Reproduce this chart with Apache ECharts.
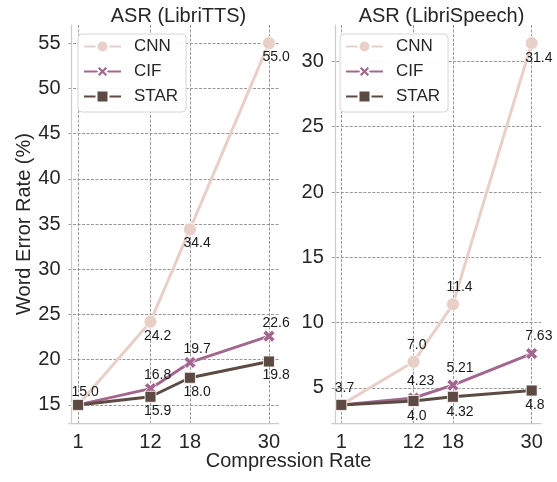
<!DOCTYPE html>
<html>
<head>
<meta charset="utf-8">
<script src="https://cdn.jsdelivr.net/npm/echarts@6/dist/echarts.min.js"></script>
<style>html,body{margin:0;padding:0;background:#fff;}#c{width:557px;height:482px;}</style>
</head>
<body>
<div id="c"></div>
<script>
// ---- data ----
const compressionRates = [1, 12, 18, 30];
const seriesNames = ['CNN', 'CIF', 'STAR'];

const ttsCNN  = [15.0, 24.2, 34.4, 55.0];
const ttsCIF  = [15.0, 16.8, 19.7, 22.6];
const ttsSTAR = [15.0, 15.9, 18.0, 19.8];
const ttsCNNLabels  = ['15.0', '24.2', '34.4', '55.0'];
const ttsCIFLabels  = ['', '16.8', '19.7', '22.6'];
const ttsSTARLabels = ['', '15.9', '18.0', '19.8'];
const ttsCNNPos  = ['above', 'below', 'below', 'below'];
const ttsCIFPos  = ['', 'above', 'above', 'above'];
const ttsSTARPos = ['', 'below', 'below', 'below'];

const speechCNN  = [3.7, 7.0, 11.4, 31.4];
const speechCIF  = [3.7, 4.23, 5.21, 7.63];
const speechSTAR = [3.7, 4.0, 4.32, 4.8];
const speechCNNLabels  = ['3.7', '7.0', '11.4', '31.4'];
const speechCIFLabels  = ['', '4.23', '5.21', '7.63'];
const speechSTARLabels = ['', '4.0', '4.32', '4.8'];
const speechCNNPos  = ['above', 'above', 'above', 'below'];
const speechCIFPos  = ['', 'above', 'above', 'above'];
const speechSTARPos = ['', 'below', 'below', 'below'];

const ttsYTicks = [15, 20, 25, 30, 35, 40, 45, 50, 55];
const speechYTicks = [5, 10, 15, 20, 25, 30];

// ---- styles ----
const FONT = "'Liberation Sans', Arial, Helvetica, sans-serif";
const TXT = '#262626';
const colors = { CNN: '#e8d0c8', CIF: '#a3678f', STAR: '#5d4b43' };
const XPATH = 'path://M2.5,0 L5,2.5 L7.5,0 L10,2.5 L7.5,5 L10,7.5 L7.5,10 L5,7.5 L2.5,10 L0,7.5 L2.5,5 L0,2.5 Z';
const symbols = { CNN: 'circle', CIF: XPATH, STAR: 'rect' };
const symSizes = { CNN: 13, CIF: 12, STAR: 11 };

const grids = [
  { left: 68.5, top: 25, width: 210, height: 398 },
  { left: 331.8, top: 25, width: 209.4, height: 398 }
];

function makeData(values, labels, pos, dyAbove, dyBelow) {
  return compressionRates.map((x, i) => {
    const item = { value: [x, values[i]] };
    if (labels[i]) {
      item.label = {
        show: true,
        formatter: labels[i],
        position: 'inside',
        align: 'left',
        verticalAlign: 'middle',
        offset: [-6.5, pos[i] === 'above' ? dyAbove : dyBelow],
        fontSize: 14,
        fontFamily: FONT,
        color: '#1a1a1a'
      };
    } else {
      item.label = { show: false };
    }
    return item;
  });
}

function makeSeries(name, idx, values, labels, pos, dyA, dyB) {
  return {
    name: name,
    type: 'line',
    xAxisIndex: idx,
    yAxisIndex: idx,
    data: makeData(values, labels, pos, dyA, dyB),
    symbol: symbols[name],
    symbolSize: symSizes[name],
    showAllSymbol: true,
    lineStyle: { color: colors[name], width: 3 },
    itemStyle: { color: colors[name], borderColor: '#fff', borderWidth: 0.8, opacity: 1 },
    emphasis: { disabled: true },
    animation: false,
    z: 2 + seriesNames.indexOf(name)
  };
}

function xAxisOpt(idx) {
  return {
    type: 'value', gridIndex: idx, min: -0.45, max: 31.45,
    axisLine: { show: true, lineStyle: { color: '#cccccc', width: 1.25 } },
    axisTick: { show: false, customValues: compressionRates },
    axisLabel: { customValues: compressionRates, fontSize: 20, color: TXT, fontFamily: FONT, margin: 9 },
    splitLine: { show: true, lineStyle: { color: '#999', width: 1, type: [3, 1.5] } }
  };
}

function yAxisOpt(idx, min, max, ticks) {
  const o = {
    type: 'value', gridIndex: idx, min: min, max: max,
    axisLine: { show: true, lineStyle: { color: '#cccccc', width: 1.25 } },
    axisTick: { show: false, customValues: ticks },
    axisLabel: { customValues: ticks, fontSize: 20, color: TXT, fontFamily: FONT, margin: 8 },
    splitLine: { show: true, lineStyle: { color: '#999', width: 1, type: [3, 1.5] } }
  };
  if (idx === 0) {
    o.name = 'Word Error Rate (%)';
    o.nameLocation = 'middle';
    o.nameRotate = 90;
    o.nameGap = 33;
    o.nameTextStyle = { fontSize: 20, color: TXT, fontFamily: FONT };
  }
  return o;
}

function legendOpt(left) {
  return {
    left: left, top: 34, orient: 'vertical',
    data: seriesNames,
    itemWidth: 37, itemHeight: 15, itemGap: 8,
    padding: [4, 8, 7, 5],
    backgroundColor: 'rgba(255,255,255,0.92)',
    borderColor: '#d6d6d6', borderWidth: 1, borderRadius: 4,
    textStyle: { fontSize: 17, color: TXT, fontFamily: FONT, padding: [0, 0, 0, 8] },
    selectedMode: false,
    z: 10
  };
}

const chart = echarts.init(document.getElementById('c'), null, { renderer: 'canvas' });
chart.setOption({
  backgroundColor: '#fff',
  animation: false,
  title: [
    { text: 'ASR (LibriTTS)', left: 173.5, top: 1, textAlign: 'center',
      textStyle: { fontSize: 20, fontWeight: 'normal', color: TXT, fontFamily: FONT } },
    { text: 'ASR (LibriSpeech)', left: 436.5, top: 1, textAlign: 'center',
      textStyle: { fontSize: 20, fontWeight: 'normal', color: TXT, fontFamily: FONT } },
    { text: 'Compression Rate', left: 283.5, top: 446, textAlign: 'center',
      textStyle: { fontSize: 20, fontWeight: 'normal', color: TXT, fontFamily: FONT } }
  ],
  legend: [legendOpt(78), legendOpt(340)],
  grid: grids,
  xAxis: [xAxisOpt(0), xAxisOpt(1)],
  yAxis: [yAxisOpt(0, 13, 57, ttsYTicks), yAxisOpt(1, 2.315, 32.785, speechYTicks)],
  series: [
    makeSeries('CNN', 0, ttsCNN, ttsCNNLabels, ttsCNNPos, -13, 14),
    makeSeries('CIF', 0, ttsCIF, ttsCIFLabels, ttsCIFPos, -13, 14),
    makeSeries('STAR', 0, ttsSTAR, ttsSTARLabels, ttsSTARPos, -13, 14),
    makeSeries('CNN', 1, speechCNN, speechCNNLabels, speechCNNPos, -17, 15),
    makeSeries('CIF', 1, speechCIF, speechCIFLabels, speechCIFPos, -17, 15),
    makeSeries('STAR', 1, speechSTAR, speechSTARLabels, speechSTARPos, -17, 15)
  ]
});
</script>
</body>
</html>
